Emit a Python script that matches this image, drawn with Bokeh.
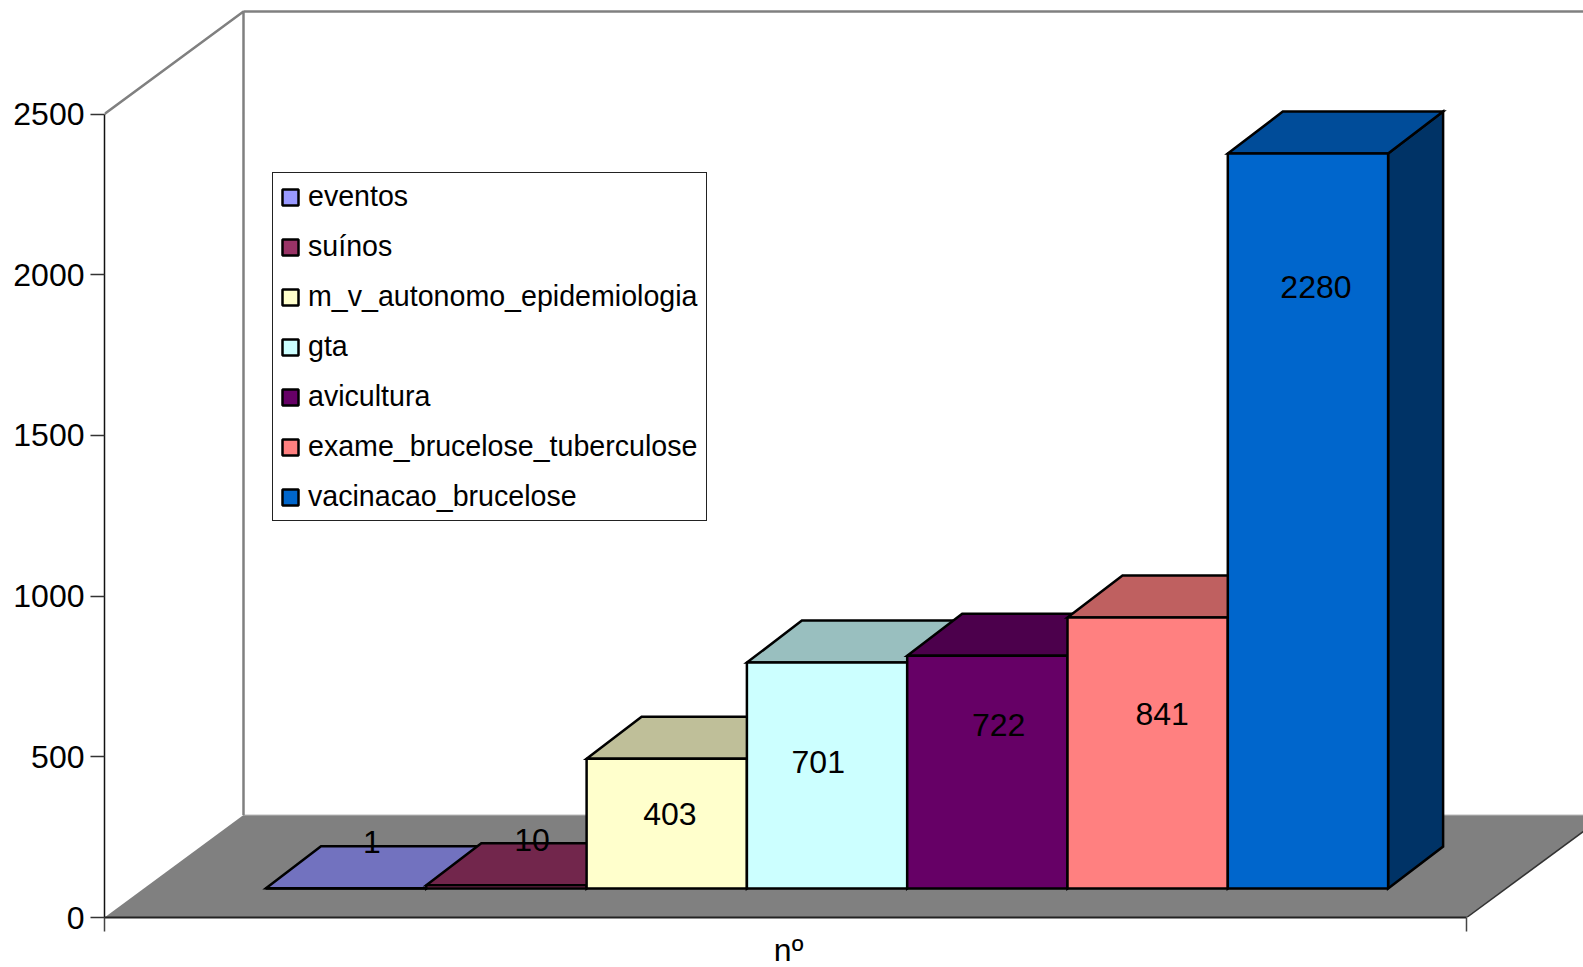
from bokeh.plotting import figure
from bokeh.models import Range1d, FixedTicker, Legend, LegendItem, ColumnDataSource
from bokeh.core.properties import value
from bokeh.embed import file_html
from bokeh.resources import INLINE

# --- data ---
categories = ["eventos", "suínos", "m_v_autonomo_epidemiologia", "gta", "avicultura",
              "exame_brucelose_tuberculose", "vacinacao_brucelose"]
values = [1, 10, 403, 701, 722, 841, 2280]
colors = ["#9999FF", "#993366", "#FFFFCC", "#CCFFFF", "#660066", "#FF8080", "#0066CC"]
y_ticks = [0, 500, 1000, 1500, 2000, 2500]
x_label = "nº"

# --- style / geometry ---
FONT = "Liberation Sans"
FS = "32px"
LEG_FS = "28.6px"
PX_PER_UNIT = 0.3214
PX_PER_BAR = 160.3
FRAME_W, FRAME_H = 1479, 909
X0 = -1.0075
X_END = X0 + FRAME_W / PX_PER_BAR
X_AXIS_END = 7.49
X_LABEL_POS = 3.26
Y_END = FRAME_H / PX_PER_UNIT
BASE = 90
BAR_SCALE = 1.003
DEPTH_X = 55 / PX_PER_BAR
DEPTH_Y = 42 / PX_PER_UNIT
FLOOR_DX = 139 / PX_PER_BAR
FLOOR_DY = 102.5 / PX_PER_UNIT
GRAY = "#808080"
label_dx = [0.16, 0.16, 0.02, -0.055, 0.07, 0.09, 0.05]
label_dy = [144, 140, -171, -306, -213, -299, -408]


def shade(hex_color, k):
    return "#" + "".join(f"{int(int(hex_color[i:i+2], 16) * k):02X}" for i in (1, 3, 5))


p = figure(width=1583, height=967, output_backend="svg", toolbar_location=None,
           x_range=Range1d(X0, X_END), y_range=Range1d(0, Y_END),
           frame_width=FRAME_W, frame_height=FRAME_H,
           min_border_left=104, min_border_right=0, min_border_top=8, min_border_bottom=50)
p.outline_line_color = None
p.grid.visible = False
p.background_fill_color = "white"

ya = p.yaxis[0]
ya.ticker = FixedTicker(ticks=y_ticks)
ya.bounds = (0, 2500)
ya.axis_line_color = "#111111"
ya.axis_line_width = 1.5
ya.major_tick_line_color = "#333333"
ya.major_tick_line_width = 1.5
ya.major_tick_out = 14
ya.major_tick_in = 0
ya.minor_tick_line_color = None
ya.major_label_standoff = 6
ya.major_label_text_font = FONT
ya.major_label_text_font_size = FS
ya.major_label_text_color = "black"

xa = p.xaxis[0]
xa.ticker = FixedTicker(ticks=[X_LABEL_POS], minor_ticks=[X0, X_AXIS_END])
xa.major_label_overrides = {X_LABEL_POS: x_label}
xa.bounds = (X0, X_AXIS_END)
xa.major_label_text_font = FONT
xa.major_label_text_font_size = FS
xa.major_label_text_color = "black"
xa.major_label_standoff = 0
xa.major_tick_line_color = None
xa.major_tick_out = 0
xa.major_tick_in = 0
xa.minor_tick_out = 14
xa.minor_tick_in = 0
xa.minor_tick_line_color = "#444444"
xa.minor_tick_line_width = 1.5
xa.axis_line_color = "#222222"
xa.axis_line_width = 2

# floor
p.patch([X0, X0 + FLOOR_DX, X_AXIS_END + FLOOR_DX, X_AXIS_END],
        [0, FLOOR_DY, FLOOR_DY, 0], fill_color=GRAY, line_color=None)
p.line([X_AXIS_END, X_AXIS_END + FLOOR_DX], [0, FLOOR_DY], line_color="#333333", line_width=1.5)
p.line([X0 + FLOOR_DX, X_END], [FLOOR_DY, FLOOR_DY], line_color="#bbbbbb", line_width=1)

# walls
top = 2500 + FLOOR_DY
p.line([X0, X0 + FLOOR_DX, X0 + FLOOR_DX], [2500, top, FLOOR_DY],
       line_color=GRAY, line_width=2.5)
p.line([X0 + FLOOR_DX, X_END], [top, top], line_color=GRAY, line_width=2.5)

# bars
items = []
for i, (name, v, c) in enumerate(zip(categories, values, colors)):
    t = BASE + v * BAR_SCALE
    p.patch([i + 1, i + 1 + DEPTH_X, i + 1 + DEPTH_X, i + 1],
            [BASE, BASE + DEPTH_Y, t + DEPTH_Y, t],
            fill_color=shade(c, 0.5), line_color="black", line_width=2.5, line_join="miter")
    p.patch([i, i + DEPTH_X, i + 1 + DEPTH_X, i + 1],
            [t, t + DEPTH_Y, t + DEPTH_Y, t],
            fill_color=shade(c, 0.75), line_color="black", line_width=2.5, line_join="miter")
    r = p.quad(left=[i], right=[i + 1], bottom=[BASE], top=[t],
               fill_color=c, line_color="black", line_width=2.5)
    items.append(LegendItem(label=name, renderers=[r]))

# value labels
src = ColumnDataSource(dict(
    x=[i + 0.5 + d for i, d in enumerate(label_dx)],
    y=[BASE + v + d for v, d in zip(values, label_dy)],
    t=[str(v) for v in values]))
p.text("x", "y", "t", source=src, text_font=value(FONT), text_font_size=value(FS),
       text_align="center", text_baseline="middle", text_color="black")

legend = Legend(items=items, location=(168, 396), margin=0,
                padding=dict(left=7, right=9, top=7, bottom=7), spacing=17,
                label_height=32, glyph_height=20, glyph_width=20, label_standoff=8,
                label_text_font=FONT, label_text_font_size=LEG_FS, label_text_color="black",
                border_line_color="#222222", border_line_width=1.2, border_line_alpha=1.0,
                background_fill_color="white", background_fill_alpha=1.0)
p.add_layout(legend, "center")

open("out.html", "w").write(file_html(p, INLINE))
